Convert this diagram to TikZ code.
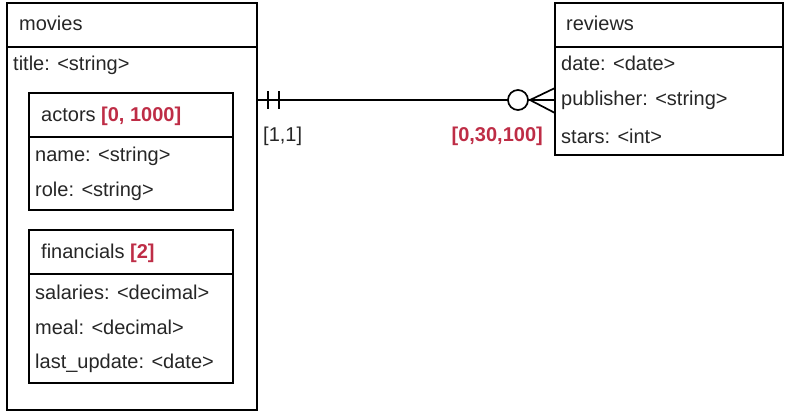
\documentclass[tikz,border=0pt]{standalone}
\usepackage{fontspec}
\setmainfont{Liberation Sans}
\definecolor{card}{RGB}{190,45,70}
\begin{document}
\begin{tikzpicture}[x=1pt,y=-1pt,
  box/.style={draw=black,line width=1.7pt,anchor=north west,inner sep=0pt,outer sep=0pt},
  txt/.style={anchor=west,inner sep=0pt,font=\fontsize{20}{24}\selectfont,text=black!85},
  cardtxt/.style={txt,text=card,font=\fontsize{20}{24}\selectfont\bfseries},
  rule/.style={line width=1.7pt},
  conn/.style={line width=1.7pt}]
\useasboundingbox (0,0) rectangle (785,413);
% movies
\node[box,minimum width=250pt,minimum height=407pt] (movies) at (7,3) {};
\draw[rule] (7,47) -- (257,47);
\node[txt] (mt) at (19,23) {movies};
\node[txt] (mtitle) at (13,65) {title: <string>};
% actors
\node[box,minimum width=204pt,minimum height=117pt] (actors) at (29,93) {};
\draw[rule] (29,137) -- (233,137);
\node[txt] (at) at (41,116) {actors \textcolor{card}{\bfseries [0, 1000]}};
\node[txt] (aname) at (35,156) {name: <string>};
\node[txt] (arole) at (35,191) {role: <string>};
% financials
\node[box,minimum width=204pt,minimum height=153pt] (fin) at (29,230) {};
\draw[rule] (29,274) -- (233,274);
\node[txt] (ft) at (41,253) {financials \textcolor{card}{\bfseries [2]}};
\node[txt] (fsal) at (35,292) {salaries: <decimal>};
\node[txt] (fmeal) at (35,327) {meal: <decimal>};
\node[txt] (fupd) at (35,363) {last\_update: <date>};
% reviews
\node[box,minimum width=228pt,minimum height=152pt] (reviews) at (555,3) {};
\draw[rule] (555,47) -- (783,47);
\node[txt] (rt) at (566,23) {reviews};
\node[txt] (rdate) at (561,63) {date: <date>};
\node[txt] (rpub) at (561,100) {publisher: <string>};
\node[txt] (rstars) at (561,136) {stars: <int>};
% connector
\coordinate (L) at (movies.east |- 0,100);
\coordinate (R) at (reviews.west |- 0,100);
\coordinate (cf) at (530,100);
\draw[conn] (L) -- (R);
\draw[conn] (268,91) -- (268,109);
\draw[conn] (279,91) -- (279,109);
\draw[conn] (cf) -- (R |- 0,88);
\draw[conn] (cf) -- (R |- 0,113);
\draw[conn,fill=white] (518,100) circle (10);
\node[txt] (l1) at (263,136) {[1,1]};
\node[cardtxt,anchor=east] (l2) at (543,136) {[0,30,100]};
\end{tikzpicture}
\end{document}
